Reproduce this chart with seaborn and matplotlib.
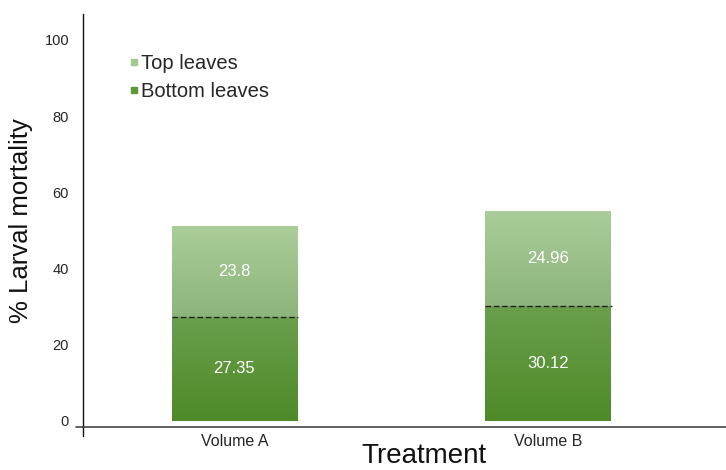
import numpy as np
import pandas as pd
import matplotlib
matplotlib.use("Agg")
import matplotlib.pyplot as plt
from matplotlib.colors import LinearSegmentedColormap
from matplotlib.lines import Line2D
import seaborn as sns

treatments = ["Volume A", "Volume B"]
bottom_leaves = [27.35, 30.12]
top_leaves = [23.8, 24.96]
y_ticks = [0, 20, 40, 60, 80, 100]

sns.set_theme(style="white")
plt.rcParams["font.family"] = ["Liberation Sans", "DejaVu Sans"]

df = pd.DataFrame({
    "Treatment": treatments,
    "Bottom": bottom_leaves,
    "Top": top_leaves,
})
df["Total"] = df["Bottom"] + df["Top"]

fig = plt.figure(figsize=(7.26, 4.70), dpi=100)
ax = fig.add_axes([83 / 726, 43 / 470, 643 / 726, 413 / 470])

top_color = "#a3c890"
bottom_color = "#5c9a36"

sns.barplot(data=df, x="Treatment", y="Total", color=top_color, width=0.4,
            saturation=1, ax=ax, order=treatments)
n_top = len(ax.patches)
sns.barplot(data=df, x="Treatment", y="Bottom", color=bottom_color, width=0.4,
            saturation=1, ax=ax, order=treatments)

top_patches = ax.patches[:n_top]
bot_patches = ax.patches[n_top:]

# vertical gradient fills clipped to each bar segment
top_cmap = LinearSegmentedColormap.from_list("top", ["#8db47c", "#aacd99"])
bot_cmap = LinearSegmentedColormap.from_list("bot", ["#4e8a28", "#6a9f4c"])
grad = np.linspace(0, 1, 256).reshape(-1, 1)
for tp, bp, b in zip(top_patches, bot_patches, bottom_leaves):
    x0 = tp.get_x()
    w = tp.get_width()
    h = tp.get_height()
    tp.set_edgecolor("none")
    bp.set_edgecolor("none")
    im = ax.imshow(grad, cmap=top_cmap, origin="lower", aspect="auto",
                   extent=[x0, x0 + w, b, h], zorder=2)
    im.set_clip_path(tp)
    im2 = ax.imshow(grad, cmap=bot_cmap, origin="lower", aspect="auto",
                    extent=[x0, x0 + w, 0, b], zorder=2)
    im2.set_clip_path(bp)
    ax.plot([x0, x0 + w * 1.01], [b, b], color="#222222", lw=1.0,
            ls=(0, (4, 2)), zorder=3)
    cx = x0 + w / 2
    ax.text(cx, b + (h - b) / 2, f"{h - b:.4g}", color="white", fontsize=12,
            ha="center", va="center", zorder=4)
    ax.text(cx, b / 2, f"{b:.4g}", color="white", fontsize=12,
            ha="center", va="center", zorder=4)

ax.set_xlim(-0.483, 1.568)
ax.set_ylim(-1.6, 106.8)
ax.set_yticks(y_ticks)
ax.set_yticklabels([str(t) for t in y_ticks], fontsize=10.5)
ax.tick_params(axis="y", length=0, pad=10)
ax.tick_params(axis="x", length=0, pad=5, labelsize=11.5)

for s in ["top", "right"]:
    ax.spines[s].set_visible(False)
ax.spines["left"].set_color("#111111")
ax.spines["left"].set_linewidth(1.0)
ax.spines["bottom"].set_color("#444444")
ax.spines["bottom"].set_linewidth(1.2)
# small extensions of the axis lines past their crossing point
ax.plot([0, 0], [-0.022, 0], transform=ax.transAxes, color="#111111",
        lw=1.0, clip_on=False)
ax.plot([-0.011, 0], [0, 0], transform=ax.transAxes, color="#444444",
        lw=1.2, clip_on=False)

ax.set_xlabel("")
ax.set_ylabel("")
fig.text(424 / 726, 1 / 470, "Treatment", fontsize=20, ha="center",
         va="bottom", color="#111111")
fig.text(21 / 726, 1 - 221 / 470, "% Larval mortality", fontsize=18.5,
         rotation=90, ha="center", va="center", color="#111111")

handles = [
    Line2D([], [], marker="s", ls="none", color=top_color, markersize=5),
    Line2D([], [], marker="s", ls="none", color=bottom_color, markersize=5),
]
ax.legend(handles, ["Top leaves", "Bottom leaves"], loc="upper left",
          bbox_to_anchor=(0.04, 0.948), frameon=False, fontsize=14.5,
          handletextpad=0.0, handlelength=0.7, labelspacing=0.45)

fig.savefig("out.png", dpi=100)
